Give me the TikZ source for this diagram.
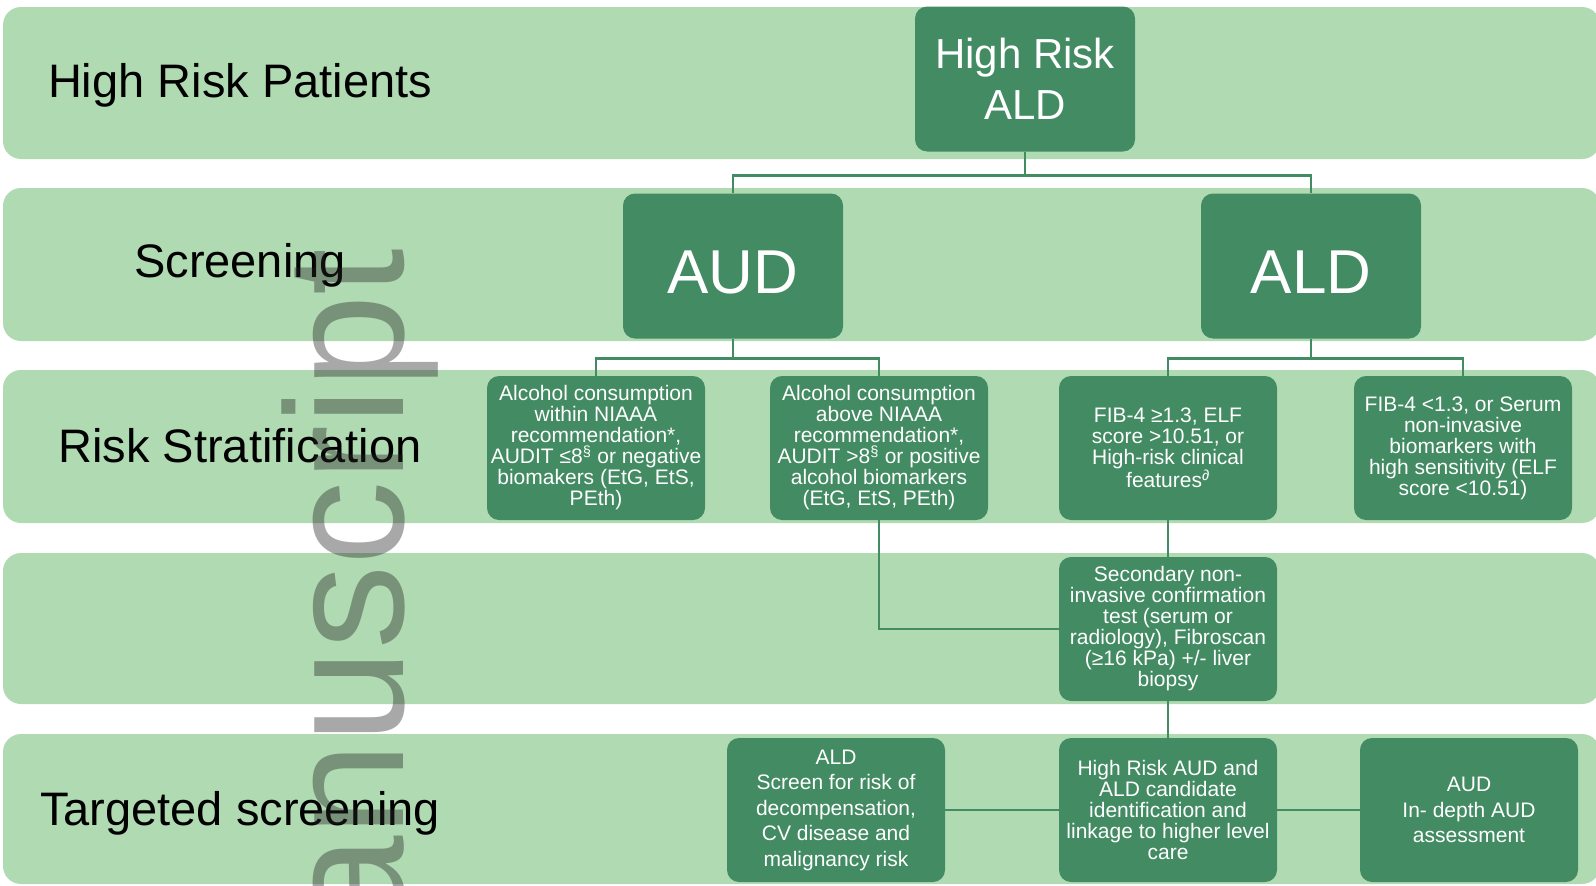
\documentclass[tikz,border=0pt]{standalone}
\usepackage{fontspec}
\setmainfont{Liberation Sans}
\usepackage{tikz}
\usetikzlibrary{positioning}
\usepackage{xcolor}
\definecolor{bandgreen}{HTML}{B0DAB2}
\definecolor{boxgreen}{HTML}{428B63}

\begin{document}
\begin{tikzpicture}[
  x=1pt,y=-1pt,
  band/.style={fill=bandgreen,rounded corners=18pt},
  stage/.style={font=\fontsize{47}{52}\selectfont,text=black,inner sep=0pt},
  bigbox/.style={fill=boxgreen,rounded corners=12pt,minimum width=220pt,minimum height=145pt,align=center,text=white,inner sep=3pt},
  hugebox/.style={bigbox,font=\fontsize{62}{62}\selectfont,text height=54pt,text depth=0pt},
  smallbox/.style={bigbox,minimum width=218pt,minimum height=144pt,font=\fontsize{21}{21}\selectfont},
  tgtbox/.style={smallbox,font=\fontsize{21}{25.5}\selectfont},
  link/.style={draw=boxgreen,line width=2.7pt},
  stamp/.style={font=\fontsize{168}{168}\selectfont,text=black!85,text opacity=0.4,inner sep=0pt}
]
\useasboundingbox (0,0) rectangle (1596,886);
\fill[band] (3,7) rectangle (1600,159);
\fill[band] (3,188) rectangle (1600,341);
\fill[band] (3,370) rectangle (1600,523);
\fill[band] (3,553) rectangle (1600,704);
\fill[band] (3,734) rectangle (1600,884);

\node[stage] (lblpat) at (240,85) {High Risk Patients};
\node[stage] (lblscr) at (240,265) {Screening};
\node[stage] (lblrisk) at (240,446) {Risk Stratification};
\node[stage] (lbltgt) at (240,813) {Targeted screening};

\node[bigbox,font=\fontsize{42}{51}\selectfont] (hrald) at (1025,79) {High Risk\\ALD};
\node[hugebox] (aud) at (733,266) {AUD};
\node[hugebox] (ald) at (1311,266) {ALD};

\node[smallbox] (within) at (596,448) {Alcohol consumption\\within NIAAA\\recommendation*,\\AUDIT ≤8\textsuperscript{§} or negative\\biomakers (EtG, EtS,\\PEth)};
\node[smallbox] (above) at (879,448) {Alcohol consumption\\above NIAAA\\recommendation*,\\AUDIT >8\textsuperscript{§} or positive\\alcohol biomarkers\\(EtG, EtS, PEth)};
\node[smallbox] (fibhigh) at (1168,448) {FIB-4 ≥1.3, ELF\\score >10.51, or\\High-risk clinical\\features\textsuperscript{∂}};
\node[smallbox] (fiblow) at (1463,448) {FIB-4 <1.3, or Serum\\non-invasive\\biomarkers with\\high sensitivity (ELF\\score <10.51)};

\node[smallbox] (second) at (1168,629) {Secondary non-\\invasive confirmation\\test (serum or\\radiology), Fibroscan\\(≥16 kPa) +/- liver\\biopsy};

\node[tgtbox] (tgtald) at (836,810) {ALD\\Screen for risk of\\decompensation,\\CV disease and\\malignancy risk};
\node[smallbox] (tgtlink) at (1168,810) {High Risk AUD and\\ALD candidate\\identification and\\linkage to higher level\\care};
\node[tgtbox] (tgtaud) at (1469,810) {AUD\\In- depth AUD\\assessment};

\draw[link] (hrald.south) -- ++(0,24) -| (aud.north);
\draw[link] (hrald.south) -- ++(0,24) -| (ald.north);
\draw[link] (aud.south) -- ++(0,20) -| (within.north);
\draw[link] (aud.south) -- ++(0,20) -| (above.north);
\draw[link] (ald.south) -- ++(0,20) -| (fibhigh.north);
\draw[link] (ald.south) -- ++(0,20) -| (fiblow.north);
\draw[link] (above.south) |- (second.west);
\draw[link] (fibhigh.south) -- (second.north);
\draw[link] (second.south) -- (tgtlink.north);
\draw[link] (tgtald.east) -- (tgtlink.west);
\draw[link] (tgtlink.east) -- (tgtaud.west);

\node[stamp,rotate=90,anchor=base east] (wm) at (403,248) {manuscript};
\end{tikzpicture}
\end{document}
